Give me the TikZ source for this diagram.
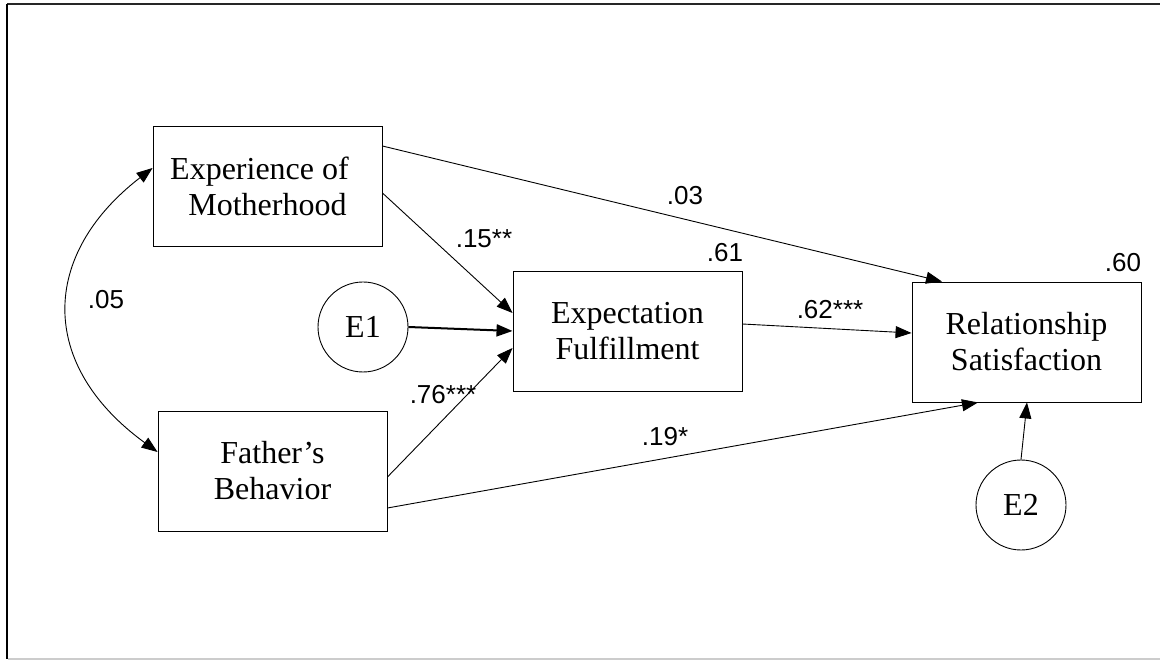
\documentclass[tikz,border=0pt]{standalone}
\usepackage{fontspec}
\setmainfont{Liberation Serif}
\newfontfamily\coeffont{Liberation Sans}
\usetikzlibrary{arrows.meta}
\begin{document}
\begin{tikzpicture}[x=1pt,y=-1pt,
  varbox/.style={draw, line width=0.9pt, rectangle, minimum width=229pt, minimum height=120pt,
    align=center, inner sep=0pt, font=\fontsize{32}{36}\selectfont},
  errnode/.style={draw, line width=0.9pt, circle, minimum size=90pt, inner sep=0pt,
    font=\fontsize{32}{36}\selectfont},
  coef/.style={inner sep=0pt, font=\coeffont\fontsize{26}{30}\selectfont},
  path/.style={line width=0.9pt, -{Triangle[length=16pt,width=12pt]}},
  bipath/.style={line width=0.9pt, {Triangle[length=16pt,width=12pt]}-{Triangle[length=16pt,width=12pt]}}]
\useasboundingbox (0,0) rectangle (1160,660);

% frame
\draw[line width=2.4pt, black!85] (7,4) -- (1160,4);
\draw[line width=2.4pt, black] (7,4) -- (7,659);
\draw[line width=1.5pt, black!20] (8,659) -- (1160,659);

% variables
\node[varbox] (mom) at (267.5,186) {Experience of\hspace*{16pt}\\Motherhood};
\node[varbox] (dad) at (272.5,471) {Father’s\\Behavior};
\node[varbox] (exp) at (627.5,331) {Expectation\\Fulfillment};
\node[varbox] (rel) at (1026.5,342) {Relationship\\Satisfaction};
\node[errnode] (e1) at (363,327) {E1};
\node[errnode] (e2) at (1021,505) {E2};

% paths
\draw[path] ([yshift=40pt]mom.east) -- ([xshift=-84.5pt]rel.north);
\draw[path] ([yshift=-7pt]mom.east) -- ([yshift=18pt]exp.west);
\draw[path, line width=2pt] (e1.east) -- (exp.west);
\draw[path] ([yshift=-6pt]dad.east) -- ([yshift=-17pt]exp.west);
\draw[path] ([yshift=-37pt]dad.east) -- ([xshift=-48.5pt]rel.south);
\draw[path] ([yshift=7pt]exp.east) -- ([yshift=9pt]rel.west);
\draw[path] (e2.north) -- ([xshift=0.5pt]rel.south);
\draw[bipath] ([yshift=18pt]mom.west) .. controls (40,255) and (38,365) .. ([yshift=19pt]dad.west);

% coefficients
\node[coef] (c03) at (685,196) {.03};
\node[coef] (c15) at (484,239) {.15**};
\node[coef] (c61) at (725,253) {.61};
\node[coef] (c60) at (1123,263) {.60};
\node[coef] (c05) at (106,300) {.05};
\node[coef] (c62) at (830,310) {.62***};
\node[coef] (c76) at (443,395) {.76***};
\node[coef] (c19) at (665,437) {.19*};
\end{tikzpicture}
\end{document}
